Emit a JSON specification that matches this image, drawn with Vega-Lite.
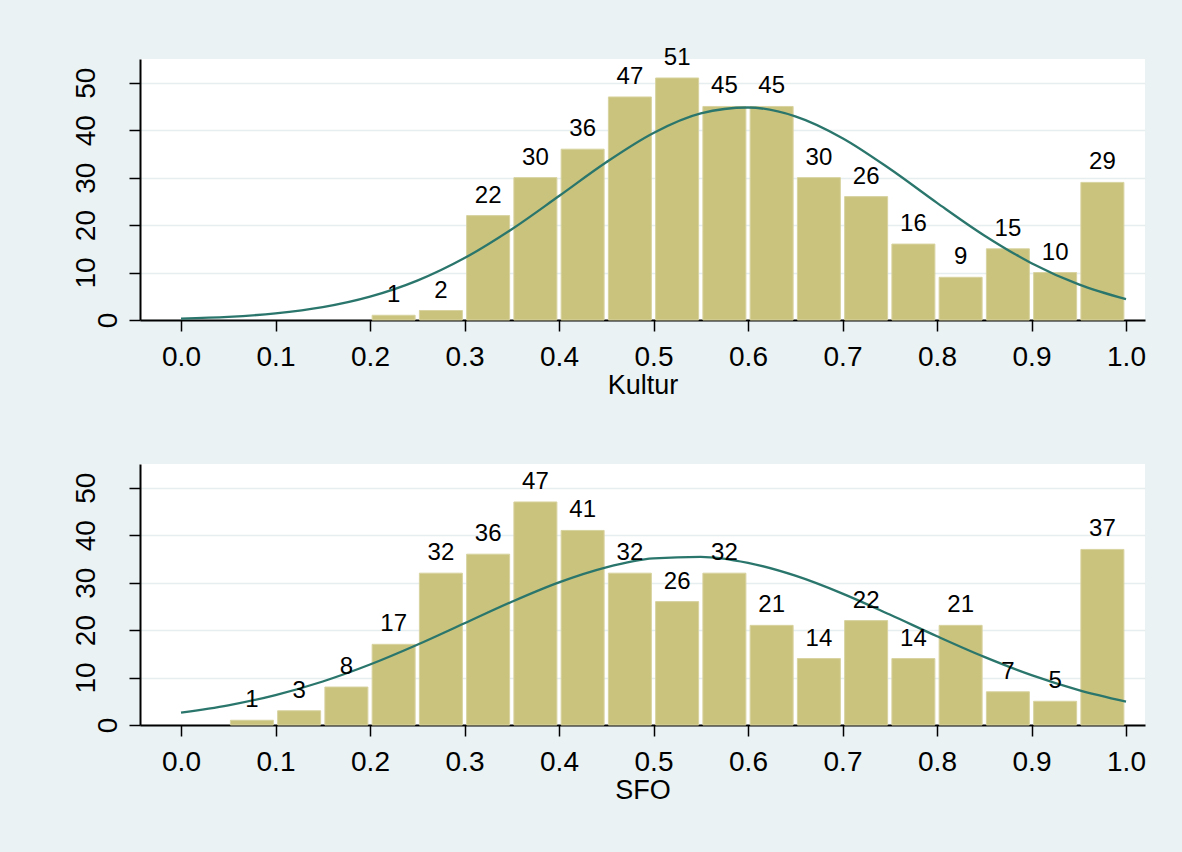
{
  "$schema": "https://vega.github.io/schema/vega-lite/v6.json",
  "background": "#EAF2F3",
  "padding": {"left": 71, "top": 45, "right": 37, "bottom": 52},
  "datasets": {
    "kultur_bins": [
      {"mid": 0.225, "count": 1}, {"mid": 0.275, "count": 2}, {"mid": 0.325, "count": 22}, {"mid": 0.375, "count": 30},
      {"mid": 0.425, "count": 36}, {"mid": 0.475, "count": 47}, {"mid": 0.525, "count": 51}, {"mid": 0.575, "count": 45},
      {"mid": 0.625, "count": 45}, {"mid": 0.675, "count": 30}, {"mid": 0.725, "count": 26}, {"mid": 0.775, "count": 16},
      {"mid": 0.825, "count": 9}, {"mid": 0.875, "count": 15}, {"mid": 0.925, "count": 10}, {"mid": 0.975, "count": 29}
    ],
    "sfo_bins": [
      {"mid": 0.075, "count": 1}, {"mid": 0.125, "count": 3}, {"mid": 0.175, "count": 8}, {"mid": 0.225, "count": 17},
      {"mid": 0.275, "count": 32}, {"mid": 0.325, "count": 36}, {"mid": 0.375, "count": 47}, {"mid": 0.425, "count": 41},
      {"mid": 0.475, "count": 32}, {"mid": 0.525, "count": 26}, {"mid": 0.575, "count": 32}, {"mid": 0.625, "count": 21},
      {"mid": 0.675, "count": 14}, {"mid": 0.725, "count": 22}, {"mid": 0.775, "count": 14}, {"mid": 0.825, "count": 21},
      {"mid": 0.875, "count": 7}, {"mid": 0.925, "count": 5}, {"mid": 0.975, "count": 37}
    ],
    "kultur_curve": [
      {"x": 0.0, "y": 0.30}, {"x": 0.05, "y": 0.66}, {"x": 0.1, "y": 1.39}, {"x": 0.15, "y": 2.70},
      {"x": 0.2, "y": 4.91}, {"x": 0.25, "y": 8.29}, {"x": 0.3, "y": 13.05}, {"x": 0.35, "y": 19.13},
      {"x": 0.4, "y": 26.13}, {"x": 0.45, "y": 33.25}, {"x": 0.5, "y": 39.42}, {"x": 0.55, "y": 43.53},
      {"x": 0.6, "y": 44.78}, {"x": 0.65, "y": 42.92}, {"x": 0.7, "y": 38.32}, {"x": 0.75, "y": 31.87},
      {"x": 0.8, "y": 24.69}, {"x": 0.85, "y": 17.82}, {"x": 0.9, "y": 11.98}, {"x": 0.95, "y": 7.51},
      {"x": 1.0, "y": 4.38}
    ],
    "sfo_curve": [
      {"x": 0.0, "y": 2.60}, {"x": 0.05, "y": 4.14}, {"x": 0.1, "y": 6.31}, {"x": 0.15, "y": 9.17},
      {"x": 0.2, "y": 12.74}, {"x": 0.25, "y": 16.91}, {"x": 0.3, "y": 21.44}, {"x": 0.35, "y": 25.97},
      {"x": 0.4, "y": 30.06}, {"x": 0.45, "y": 33.23}, {"x": 0.5, "y": 35.11}, {"x": 0.55, "y": 35.43},
      {"x": 0.6, "y": 34.16}, {"x": 0.65, "y": 31.46}, {"x": 0.7, "y": 27.69}, {"x": 0.75, "y": 23.28},
      {"x": 0.8, "y": 18.70}, {"x": 0.85, "y": 14.35}, {"x": 0.9, "y": 10.52}, {"x": 0.95, "y": 7.37},
      {"x": 1.0, "y": 4.93}
    ]
  },
  "config": {
    "font": "Liberation Sans",
    "view": {"fill": "#FFFFFF", "stroke": null},
    "scale": {"continuousPadding": 0},
    "axis": {
      "domainColor": "#000000", "domainWidth": 2, "tickColor": "#000000", "tickWidth": 1.5, "tickSize": 11,
      "labelColor": "#000000", "labelFontSize": 28, "labelFont": "Liberation Sans",
      "titleColor": "#000000", "titleFontSize": 27, "titleFontWeight": "normal", "titleFont": "Liberation Sans"
    },
    "axisX": {"grid": false, "labelBaseline": "alphabetic", "labelPadding": 34, "titleBaseline": "alphabetic", "titleY": 73, "labelFlush": false, "labelOverlap": false},
    "axisY": {
      "grid": true, "gridColor": "#E6EEF0", "gridWidth": 1.5,
      "labelAngle": 270, "labelAlign": "center", "labelBaseline": "alphabetic",
      "labelPadding": {"condition": {"test": "datum.value == 0", "value": 13}, "value": 35},
      "title": null, "labelOverlap": false
    }
  },
  "vconcat": [
    {
      "width": 1005, "height": 261,
      "layer": [
        {
          "data": {"name": "kultur_bins"},
          "mark": {"type": "bar", "size": 43, "fill": "#CAC37E", "stroke": "#D8D3A0", "strokeWidth": 1},
          "encoding": {
            "x": {"field": "mid", "type": "quantitative", "title": "Kultur",
                  "scale": {"domain": [-0.0434, 1.0201], "nice": false, "zero": false, "padding": 0},
                  "axis": {"values": [0, 0.1, 0.2, 0.3, 0.4, 0.5, 0.6, 0.7, 0.8, 0.9, 1.0], "format": ".1f"}},
            "y": {"field": "count", "type": "quantitative",
                  "scale": {"domain": [0, 55], "nice": false},
                  "axis": {"values": [0, 10, 20, 30, 40, 50]}}
          }
        },
        {
          "data": {"name": "kultur_curve"},
          "mark": {"type": "line", "color": "#2A766C", "strokeWidth": 2.3, "interpolate": "monotone"},
          "encoding": {
            "x": {"field": "x", "type": "quantitative"},
            "y": {"field": "y", "type": "quantitative"}
          }
        },
        {
          "data": {"name": "kultur_bins"},
          "mark": {"type": "text", "baseline": "alphabetic", "dy": -13, "fontSize": 24, "color": "#000000"},
          "encoding": {
            "x": {"field": "mid", "type": "quantitative"},
            "y": {"field": "count", "type": "quantitative"},
            "text": {"field": "count", "type": "quantitative"}
          }
        }
      ]
    },
    {
      "width": 1005, "height": 261,
      "layer": [
        {
          "data": {"name": "sfo_bins"},
          "mark": {"type": "bar", "size": 43, "fill": "#CAC37E", "stroke": "#D8D3A0", "strokeWidth": 1},
          "encoding": {
            "x": {"field": "mid", "type": "quantitative", "title": "SFO",
                  "scale": {"domain": [-0.0434, 1.0201], "nice": false, "zero": false, "padding": 0},
                  "axis": {"values": [0, 0.1, 0.2, 0.3, 0.4, 0.5, 0.6, 0.7, 0.8, 0.9, 1.0], "format": ".1f"}},
            "y": {"field": "count", "type": "quantitative",
                  "scale": {"domain": [0, 55], "nice": false},
                  "axis": {"values": [0, 10, 20, 30, 40, 50]}}
          }
        },
        {
          "data": {"name": "sfo_curve"},
          "mark": {"type": "line", "color": "#2A766C", "strokeWidth": 2.3, "interpolate": "monotone"},
          "encoding": {
            "x": {"field": "x", "type": "quantitative"},
            "y": {"field": "y", "type": "quantitative"}
          }
        },
        {
          "data": {"name": "sfo_bins"},
          "mark": {"type": "text", "baseline": "alphabetic", "dy": -13, "fontSize": 24, "color": "#000000"},
          "encoding": {
            "x": {"field": "mid", "type": "quantitative"},
            "y": {"field": "count", "type": "quantitative"},
            "text": {"field": "count", "type": "quantitative"}
          }
        }
      ]
    }
  ],
  "spacing": 144,
  "bounds": "flush"
}
